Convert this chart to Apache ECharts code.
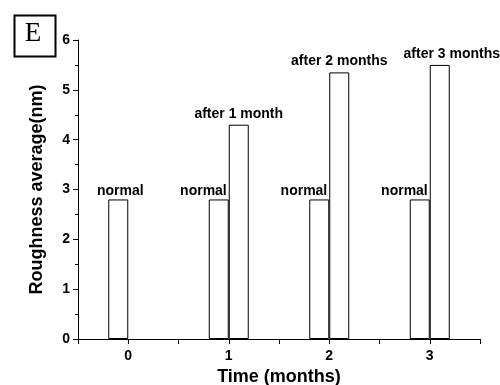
<!DOCTYPE html>
<html>
<head>
<meta charset="utf-8">
<script src="https://cdn.jsdelivr.net/npm/echarts@6/dist/echarts.min.js"></script>
<style>html,body{margin:0;padding:0;background:#fff}#c{width:500px;height:385px}</style>
</head>
<body>
<div id="c"></div>
<script>
const categories = ['0', '1', '2', '3'];
const normalValues = [2.8, 2.8, 2.8, 2.8];
const afterValues = [null, 4.3, 5.35, 5.5];
const normalLabels = ['normal', 'normal', 'normal', 'normal'];
const afterLabels = ['', 'after 1 month', 'after 2 months', 'after 3 months'];
const yTicks = [0, 1, 2, 3, 4, 5, 6];
const panelLetter = 'E';

const FONT = '"Liberation Sans", Arial, sans-serif';
const chart = echarts.init(document.getElementById('c'), null, {renderer: 'canvas'});

const labelBase = {show: true, color: '#000', fontFamily: FONT, fontWeight: 'bold', fontSize: 14};

const normalData = normalValues.map((v, i) => ({
  value: v,
  label: Object.assign({}, labelBase, i === 0
    ? {position: 'top', distance: 1, offset: [2, 0], formatter: normalLabels[i]}
    : {position: ['100%', -1], align: 'right', verticalAlign: 'bottom', offset: [-2, 0], formatter: normalLabels[i]})
}));
const afterData = afterValues.map((v, i) => ({
  value: v,
  label: Object.assign({}, labelBase, {position: 'top', distance: 4, formatter: afterLabels[i],
    offset: [i === 3 ? 12 : 0, 0]})
}));

const barStyle = {color: '#fff', borderColor: '#000', borderWidth: 1};

chart.setOption({
  animation: false,
  backgroundColor: '#fff',
  grid: {left: 78, right: 20, top: 40, bottom: 46, containLabel: false, outerBoundsMode: 'none'},
  xAxis: [
    {type: 'category', data: categories, position: 'bottom', boundaryGap: true,
     axisLine: {show: false, onZero: false}, axisTick: {show: false}, axisLabel: {show: false}},
    {type: 'value', position: 'bottom', min: -0.5, max: 3.5, interval: 0.5,
     axisLine: {show: true, onZero: false, lineStyle: {color: '#000', width: 1}},
     axisTick: {show: true, inside: false, length: 5, lineStyle: {color: '#000'}},
     splitLine: {show: false},
     axisLabel: {color: '#000', fontFamily: FONT, fontWeight: 'bold', fontSize: 14, margin: 10,
       formatter: v => (Math.abs(v - Math.round(v)) < 1e-6 && categories.includes(String(Math.round(v)))) ? String(Math.round(v)) : ''},
     name: 'Time (months)', nameLocation: 'middle', nameGap: 26,
     nameTextStyle: {color: '#000', fontFamily: FONT, fontWeight: 'bold', fontSize: 18}}
  ],
  yAxis: {
    type: 'value', min: yTicks[0], max: yTicks[yTicks.length - 1], interval: 1,
    axisLine: {show: true, onZero: false, lineStyle: {color: '#000', width: 1}},
    axisTick: {show: true, inside: false, length: 5, lineStyle: {color: '#000'}},
    minorTick: {show: true, splitNumber: 2, length: 3, lineStyle: {color: '#000'}},
    splitLine: {show: false},
    axisLabel: {color: '#000', fontFamily: FONT, fontWeight: 'bold', fontSize: 14, margin: 8},
    name: 'Roughness average(nm)', nameLocation: 'middle', nameGap: 32,
    nameTextStyle: {color: '#000', fontFamily: FONT, fontWeight: 'bold', fontSize: 18}
  },
  series: [
    {name: 'normal', type: 'bar', xAxisIndex: 0, data: normalData, barWidth: 20, barGap: '0%', itemStyle: barStyle},
    {name: 'after', type: 'bar', xAxisIndex: 0, data: afterData, barWidth: 20, barGap: '0%', itemStyle: barStyle}
  ],
  graphic: [
    {type: 'rect', left: 12, top: 13, shape: {width: 41, height: 41},
     style: {fill: 'none', stroke: '#000', lineWidth: 2}},
    {type: 'text', x: 33, y: 34,
     style: {text: panelLetter, fill: '#000', font: '27px "Liberation Serif", "Times New Roman", serif',
       textAlign: 'center', textVerticalAlign: 'middle'}}
  ]
});
</script>
</body>
</html>
